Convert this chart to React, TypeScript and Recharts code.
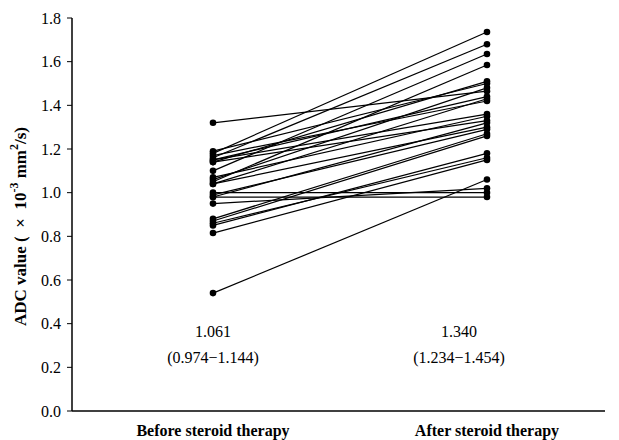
import { LineChart, Line, XAxis, YAxis } from 'recharts';

// paired ADC values per patient (×10^-3 mm²/s)
const categories = ['Before steroid therapy', 'After steroid therapy'];
const beforeValues = [
  1.32, 1.19, 1.18, 1.17, 1.16, 1.15, 1.15, 1.14, 1.14, 1.10, 1.07, 1.06, 1.05,
  1.04, 1.04, 1.00, 0.99, 0.98, 0.98, 0.95, 0.88, 0.87, 0.86, 0.85, 0.815, 0.54,
];
const afterValues = [
  1.465, 1.50, 1.736, 1.42, 1.68, 1.36, 1.44, 1.33, 1.51, 1.635, 1.35, 1.48, 1.585,
  1.30, 1.43, 1.00, 1.29, 0.98, 1.32, 1.02, 1.27, 1.26, 1.16, 1.18, 1.15, 1.06,
];
const yTicks = [0, 0.2, 0.4, 0.6, 0.8, 1.0, 1.2, 1.4, 1.6, 1.8];
const medians = ['1.061', '1.340'];
const ranges = ['(0.974\u22121.144)', '(1.234\u22121.454)'];

const FONT = '"Liberation Serif", "Times New Roman", serif';

const data = [
  Object.fromEntries([['x', 0], ...beforeValues.map((v, i) => [`p${i}`, v])]),
  Object.fromEntries([['x', 1], ...afterValues.map((v, i) => [`p${i}`, v])]),
];

const YLabel = ({ viewBox }: any) => {
  const cx = 20;
  const cy = viewBox.y + viewBox.height / 2 + 12;
  return (
    <text
      x={cx}
      y={cy}
      transform={`rotate(-90, ${cx}, ${cy})`}
      textAnchor="middle"
      dominantBaseline="central"
      style={{ fontFamily: FONT, fontSize: 17, fontWeight: 'bold', fill: '#000', whiteSpace: 'pre' }}
    >
      ADC value (  ×  10<tspan dy={-6} fontSize={12}>-3</tspan>
      <tspan dy={6}> mm</tspan>
      <tspan dy={-6} fontSize={12}>2</tspan>
      <tspan dy={6}>/s)</tspan>
    </text>
  );
};

export default function App() {
  const annX = [213, 459];
  return (
    <div style={{ position: 'absolute', left: 0, top: 0, width: 619, height: 440, background: '#fff' }}>
      <LineChart width={619} height={440} data={data} margin={{ top: 18, right: 14, left: 0, bottom: 0 }}>
        <XAxis
          dataKey="x"
          type="number"
          domain={[-0.5146, 1.4307]}
          ticks={[0, 1]}
          tickFormatter={(v) => categories[v] ?? ''}
          height={29}
          tickLine={false}
          axisLine={{ stroke: '#000', strokeWidth: 1.5 }}
          tick={{ fill: '#000', fontFamily: FONT, fontSize: 16, fontWeight: 'bold' }}
          tickMargin={8}
          interval={0}
        />
        <YAxis
          domain={[0, 1.8]}
          ticks={yTicks}
          width={72}
          tickFormatter={(v) => v.toFixed(1)}
          axisLine={{ stroke: '#000', strokeWidth: 1.5 }}
          tickLine={{ stroke: '#000' }}
          tickSize={5}
          tickMargin={6}
          tick={{ fill: '#000', fontFamily: FONT, fontSize: 16 }}
          label={<YLabel />}
        />
        {beforeValues.map((_, i) => (
          <Line
            key={i}
            dataKey={`p${i}`}
            stroke="#000"
            strokeWidth={1.2}
            dot={{ r: 3.3, fill: '#000', stroke: '#000', strokeWidth: 0 }}
            activeDot={false}
            isAnimationActive={false}
          />
        ))}
      </LineChart>
      {annX.map((x, i) => (
        <div
          key={i}
          style={{
            position: 'absolute',
            left: x - 80,
            width: 160,
            top: 319,
            textAlign: 'center',
            fontFamily: FONT,
            fontSize: 16,
            lineHeight: '26px',
            color: '#000',
          }}
        >
          <div>{medians[i]}</div>
          <div>{ranges[i]}</div>
        </div>
      ))}
    </div>
  );
}
